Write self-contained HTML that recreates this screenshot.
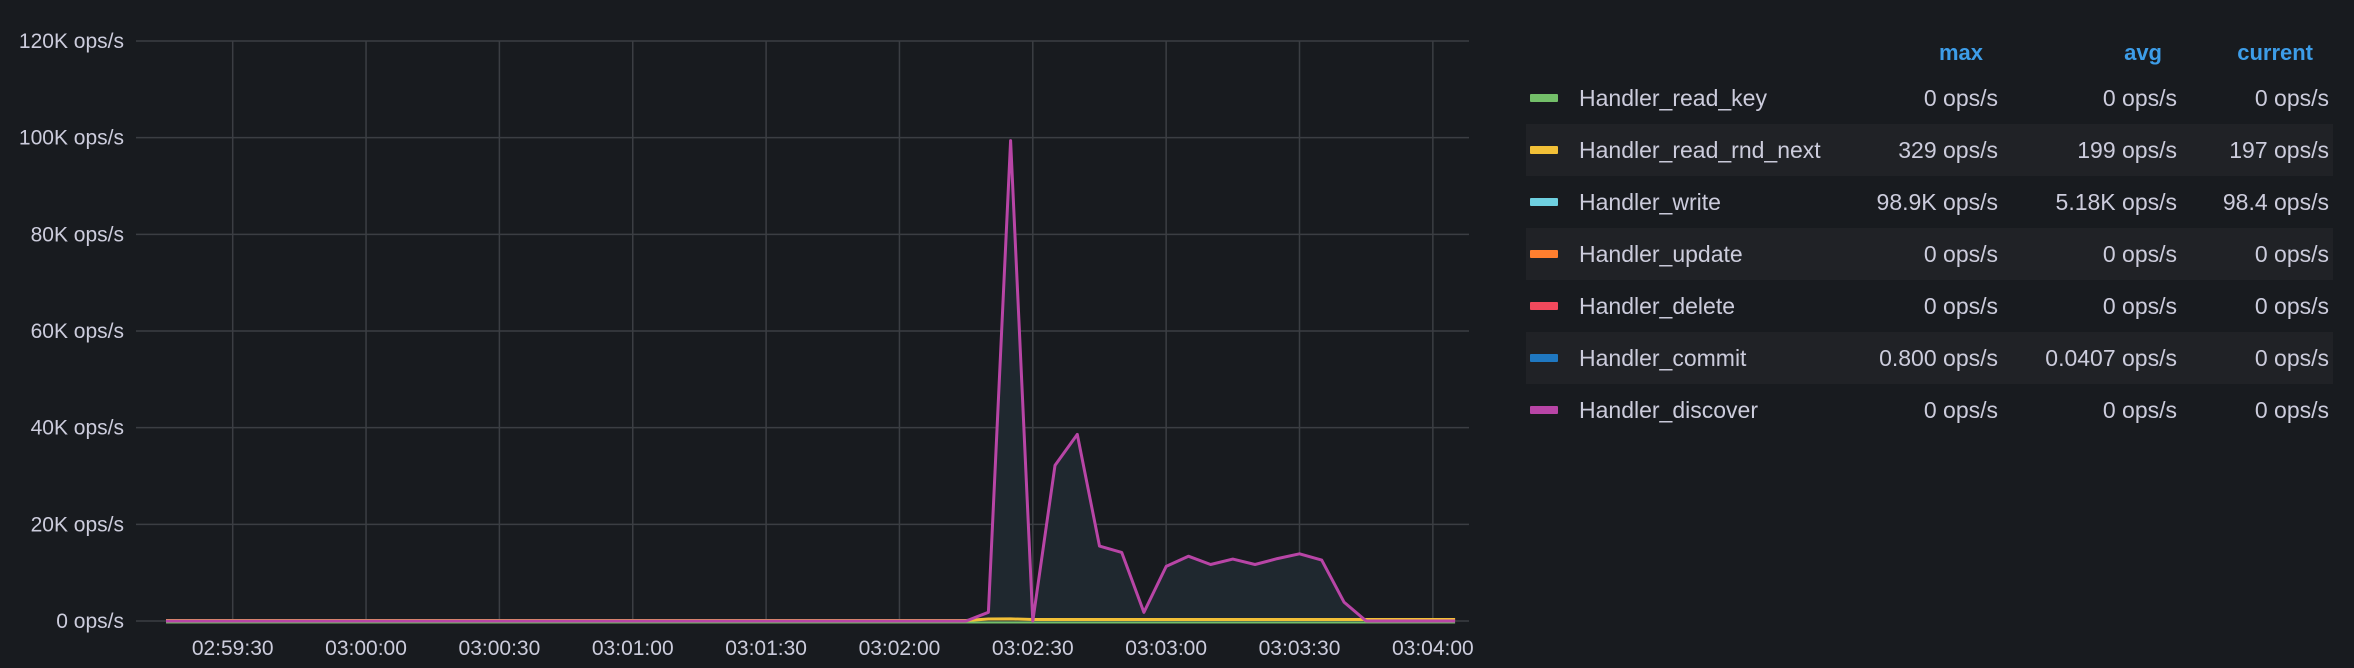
<!DOCTYPE html>
<html><head><meta charset="utf-8"><style>
html,body{margin:0;padding:0;background:#181b1f;}
svg{display:block;font-family:"Liberation Sans",sans-serif;}
</style></head><body>
<svg id="c" width="2354" height="668" viewBox="0 0 2354 668">
<rect width="2354" height="668" fill="#181b1f"/>
<g id="grid"></g><g id="series"></g><g id="axes"></g><g id="legend"></g>
</svg>
<script>
const yTicks=[0,20000,40000,60000,80000,100000,120000];
const yTickLabels=["0 ops/s","20K ops/s","40K ops/s","60K ops/s","80K ops/s","100K ops/s","120K ops/s"];
const xTicks=[0,30,60,90,120,150,180,210,240,270];
const xTickLabels=["02:59:30","03:00:00","03:00:30","03:01:00","03:01:30","03:02:00","03:02:30","03:03:00","03:03:30","03:04:00"];
// seconds relative to 02:59:30
const times=[-15,-10,-5,0,5,10,15,20,25,30,35,40,45,50,55,60,65,70,75,80,85,90,95,100,105,110,115,120,125,130,135,140,145,150,155,160,165,170,175,180,185,190,195,200,205,210,215,220,225,230,235,240,245,250,255,260,265,270,275];
const discover=[0,0,0,0,0,0,0,0,0,0,0,0,0,0,0,0,0,0,0,0,0,0,0,0,0,0,0,0,0,0,0,0,0,0,0,0,0,1800,99400,0,32200,38600,15500,14200,1800,11300,13400,11700,12800,11700,12900,13900,12600,3900,0,0,0,0,0];
const rndNext=[0,0,0,0,0,0,0,0,0,0,0,0,0,0,0,0,0,0,0,0,0,0,0,0,0,0,0,0,0,0,0,0,0,0,0,0,0,300,329,200,200,200,200,200,200,200,200,200,200,200,200,200,200,200,200,197,197,197,197];
const legNames=["Handler_read_key","Handler_read_rnd_next","Handler_write","Handler_update","Handler_delete","Handler_commit","Handler_discover"];
const legColors=["#73bf69","#f2c037","#6ed0e0","#ff7f2f","#f2495c","#1f78c1","#b845a6"];
const legMax=["0 ops/s","329 ops/s","98.9K ops/s","0 ops/s","0 ops/s","0.800 ops/s","0 ops/s"];
const legAvg=["0 ops/s","199 ops/s","5.18K ops/s","0 ops/s","0 ops/s","0.0407 ops/s","0 ops/s"];
const legCur=["0 ops/s","197 ops/s","98.4 ops/s","0 ops/s","0 ops/s","0 ops/s","0 ops/s"];

const NS="http://www.w3.org/2000/svg";
const L=136,R=1469,Y0=621,Y1=41;
const x=t=>232.7+t*4.445;
const y=v=>Y0-(v/120000)*(Y0-Y1);
function mk(tag,attrs,parent){const e=document.createElementNS(NS,tag);for(const k in attrs)e.setAttribute(k,attrs[k]);parent.appendChild(e);return e;}
const grid=document.getElementById('grid'),axes=document.getElementById('axes'),ser=document.getElementById('series'),leg=document.getElementById('legend');
yTicks.forEach((v,i)=>{
 const l=mk('line',{x1:L,x2:R,y1:y(v),y2:y(v),stroke:'#3b3e43','stroke-width':1.5},grid);
 
 
 const t=mk('text',{x:124,y:y(v)+7,'text-anchor':'end','font-size':21,fill:'#ccccdc'},axes);
 t.textContent=yTickLabels[i];
 
 
});
xTicks.forEach((s,i)=>{
 const l=mk('line',{x1:x(s),x2:x(s),y1:Y1,y2:Y0,stroke:'#3b3e43','stroke-width':1.5},grid);
 
 
 const t=mk('text',{x:x(s),y:655,'text-anchor':'middle','font-size':21,fill:'#ccccdc'},axes);
 t.textContent=xTickLabels[i];
 
 
});
let d='';times.forEach((t,i)=>{d+=(i?'L':'M')+x(t).toFixed(1)+','+y(discover[i]).toFixed(1);});
const area=mk('path',{d:d+'L'+x(times[times.length-1])+','+Y0+'L'+x(times[0])+','+Y0+'Z',fill:'#1f282f'},ser);


const g0=mk('line',{x1:x(times[0]),x2:x(times[times.length-1]),y1:Y0+1.5,y2:Y0+1.5,stroke:'#73bf69','stroke-width':2},ser);


let d2='';times.forEach((t,i)=>{d2+=(i?'L':'M')+x(t).toFixed(1)+','+(y(rndNext[i])-0.5).toFixed(1);});
const yl=mk('path',{d:d2,fill:'none',stroke:'#f2c037','stroke-width':3},ser);


const ml=mk('path',{d:d,fill:'none',stroke:'#b845a6','stroke-width':3,'stroke-linejoin':'round'},ser);


// legend
[["max",1983],["avg",2162],["current",2313]].forEach(h=>{
 const t=mk('text',{x:h[1],y:60,'text-anchor':'end','font-size':22,'font-weight':'bold',fill:'#3d9de8'},leg);
 t.textContent=h[0];
 
 
});
legNames.forEach((n,i)=>{
 const cy=98+i*52;
 if(i%2===1){const r=mk('rect',{x:1526,y:cy-26,width:807,height:52,fill:'#202226'},leg);
  
  }
 const s=mk('rect',{x:1530,y:cy-4,width:28,height:8,rx:1,fill:legColors[i]},leg);
 
 
 const t=mk('text',{x:1579,y:cy+8,'font-size':23,fill:'#ccccdc'},leg);
 t.textContent=n;
 
 
 [[legMax,1998],[legAvg,2177],[legCur,2329]].forEach(c=>{
  const v=mk('text',{x:c[1],y:cy+8,'text-anchor':'end','font-size':23,fill:'#ccccdc'},leg);
  v.textContent=c[0][i];
  
  
 });
});
</script>
</body></html>
